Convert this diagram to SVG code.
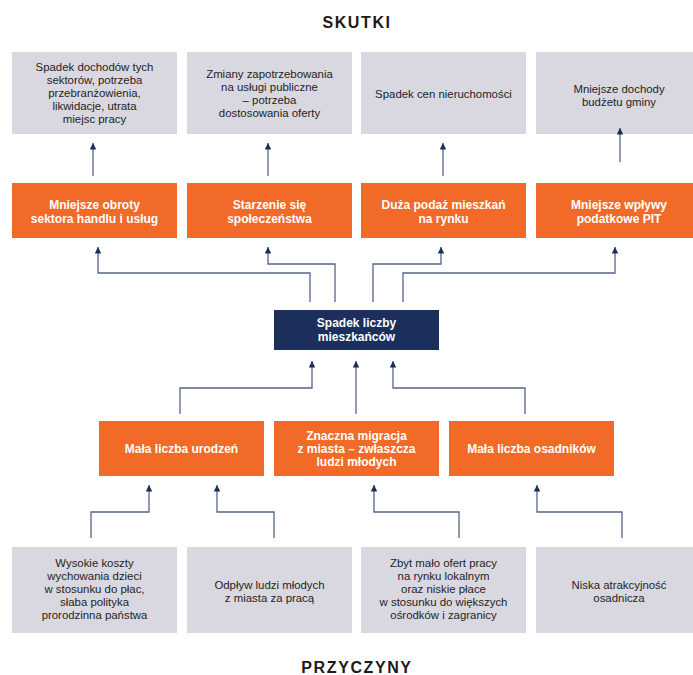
<svg xmlns="http://www.w3.org/2000/svg" width="693" height="675" viewBox="0 0 693 675">
<style>
.bg{fill:#ffffff}
.gray{fill:#d9d8e0}
.orange{fill:#f26a27}
.navy{fill:#1b2f5a}
.t{font-family:"Liberation Sans",Arial,sans-serif;font-size:11.4px;fill:#1e1e1e;text-anchor:middle}
.w{font-family:"Liberation Sans",Arial,sans-serif;font-size:12px;font-weight:bold;fill:#ffffff;text-anchor:middle}
.title{font-family:"Liberation Sans",Arial,sans-serif;font-size:16px;font-weight:bold;fill:#1a1a1a;text-anchor:middle;letter-spacing:1.6px}
.c{fill:none;stroke:#56648a;stroke-width:1.3;marker-end:url(#ah)}
</style>
<defs>
<marker id="ah" viewBox="0 0 10 10" refX="10" refY="5" markerWidth="9" markerHeight="6.5" markerUnits="userSpaceOnUse" orient="auto">
<path d="M0,0 L10,5 L0,10 z" fill="#1b2f5a"/>
</marker>
</defs>
<rect class="bg" x="0" y="0" width="693" height="675"/>

<text class="title" x="357" y="28">SKUTKI</text>
<text class="title" x="357" y="673">PRZYCZYNY</text>

<g id="e1"><rect class="gray" x="12" y="52" width="165" height="82"/>
<text class="t" x="94.5" y="71">Spadek dochodów tych</text>
<text class="t" x="94.5" y="84">sektorów, potrzeba</text>
<text class="t" x="94.5" y="97">przebranżowienia,</text>
<text class="t" x="94.5" y="110">likwidacje, utrata</text>
<text class="t" x="94.5" y="123">miejsc pracy</text></g>
<g id="e2"><rect class="gray" x="187" y="52" width="165" height="82"/>
<text class="t" x="269.5" y="78">Zmiany zapotrzebowania</text>
<text class="t" x="269.5" y="91">na usługi publiczne</text>
<text class="t" x="269.5" y="104">– potrzeba</text>
<text class="t" x="269.5" y="117">dostosowania oferty</text></g>
<g id="e3"><rect class="gray" x="361" y="52" width="165" height="82"/>
<text class="t" x="443.5" y="98">Spadek cen nieruchomości</text></g>
<g id="e4"><rect class="gray" x="536" y="52" width="165" height="82"/>
<text class="t" x="619" y="93">Mniejsze dochody</text>
<text class="t" x="619" y="106">budżetu gminy</text></g>

<g id="o1"><rect class="orange" x="12" y="183" width="165" height="55"/>
<text class="w" x="94.5" y="209">Mniejsze obroty</text>
<text class="w" x="94.5" y="223">sektora handlu i usług</text></g>
<g id="o2"><rect class="orange" x="187" y="183" width="165" height="55"/>
<text class="w" x="269.5" y="209">Starzenie się</text>
<text class="w" x="269.5" y="223">społeczeństwa</text></g>
<g id="o3"><rect class="orange" x="361" y="183" width="165" height="55"/>
<text class="w" x="443.5" y="209">Duża podaż mieszkań</text>
<text class="w" x="443.5" y="223">na rynku</text></g>
<g id="o4"><rect class="orange" x="536" y="183" width="165" height="55"/>
<text class="w" x="619" y="209">Mniejsze wpływy</text>
<text class="w" x="619" y="223">podatkowe PIT</text></g>

<g id="center"><rect class="navy" x="274" y="310" width="165" height="40"/>
<text class="w" x="356.5" y="327">Spadek liczby</text>
<text class="w" x="356.5" y="341">mieszkańców</text></g>

<g id="m1"><rect class="orange" x="99" y="421" width="165" height="55"/>
<text class="w" x="181.5" y="453">Mała liczba urodzeń</text></g>
<g id="m2"><rect class="orange" x="274" y="421" width="165" height="55"/>
<text class="w" x="356.5" y="440">Znaczna migracja</text>
<text class="w" x="356.5" y="453">z miasta – zwłaszcza</text>
<text class="w" x="356.5" y="466">ludzi młodych</text></g>
<g id="m3"><rect class="orange" x="449" y="421" width="165" height="55"/>
<text class="w" x="531.5" y="453">Mała liczba osadników</text></g>

<g id="p1"><rect class="gray" x="12" y="547" width="165" height="86"/>
<text class="t" x="94.5" y="567">Wysokie koszty</text>
<text class="t" x="94.5" y="580">wychowania dzieci</text>
<text class="t" x="94.5" y="593">w stosunku do płac,</text>
<text class="t" x="94.5" y="606">słaba polityka</text>
<text class="t" x="94.5" y="619">prorodzinna państwa</text></g>
<g id="p2"><rect class="gray" x="187" y="547" width="165" height="86"/>
<text class="t" x="269.5" y="589">Odpływ ludzi młodych</text>
<text class="t" x="269.5" y="602">z miasta za pracą</text></g>
<g id="p3"><rect class="gray" x="361" y="547" width="165" height="86"/>
<text class="t" x="443.5" y="567">Zbyt mało ofert pracy</text>
<text class="t" x="443.5" y="580">na rynku lokalnym</text>
<text class="t" x="443.5" y="593">oraz niskie płace</text>
<text class="t" x="443.5" y="606">w stosunku do większych</text>
<text class="t" x="443.5" y="619">ośrodków i zagranicy</text></g>
<g id="p4"><rect class="gray" x="536" y="547" width="165" height="86"/>
<text class="t" x="619" y="589">Niska atrakcyjność</text>
<text class="t" x="619" y="602">osadnicza</text></g>

<g id="connectors">
<path class="c" d="M93,176 V143"/>
<path class="c" d="M268,176 V143"/>
<path class="c" d="M443,176 V143"/>
<path class="c" d="M620,162 V128"/>
<path class="c" d="M310,302 V273 H98 V247"/>
<path class="c" d="M335,302 V264 H268 V247"/>
<path class="c" d="M373,302 V264 H441 V247"/>
<path class="c" d="M403,302 V273 H615 V247"/>
<path class="c" d="M180,414 V388 H312 V361"/>
<path class="c" d="M356,414 V361"/>
<path class="c" d="M525,414 V388 H393 V361"/>
<path class="c" d="M91,538 V512 H149 V485"/>
<path class="c" d="M274,538 V512 H217 V485"/>
<path class="c" d="M459,538 V512 H374 V485"/>
<path class="c" d="M622,538 V512 H537 V485"/>
</g>
</svg>
